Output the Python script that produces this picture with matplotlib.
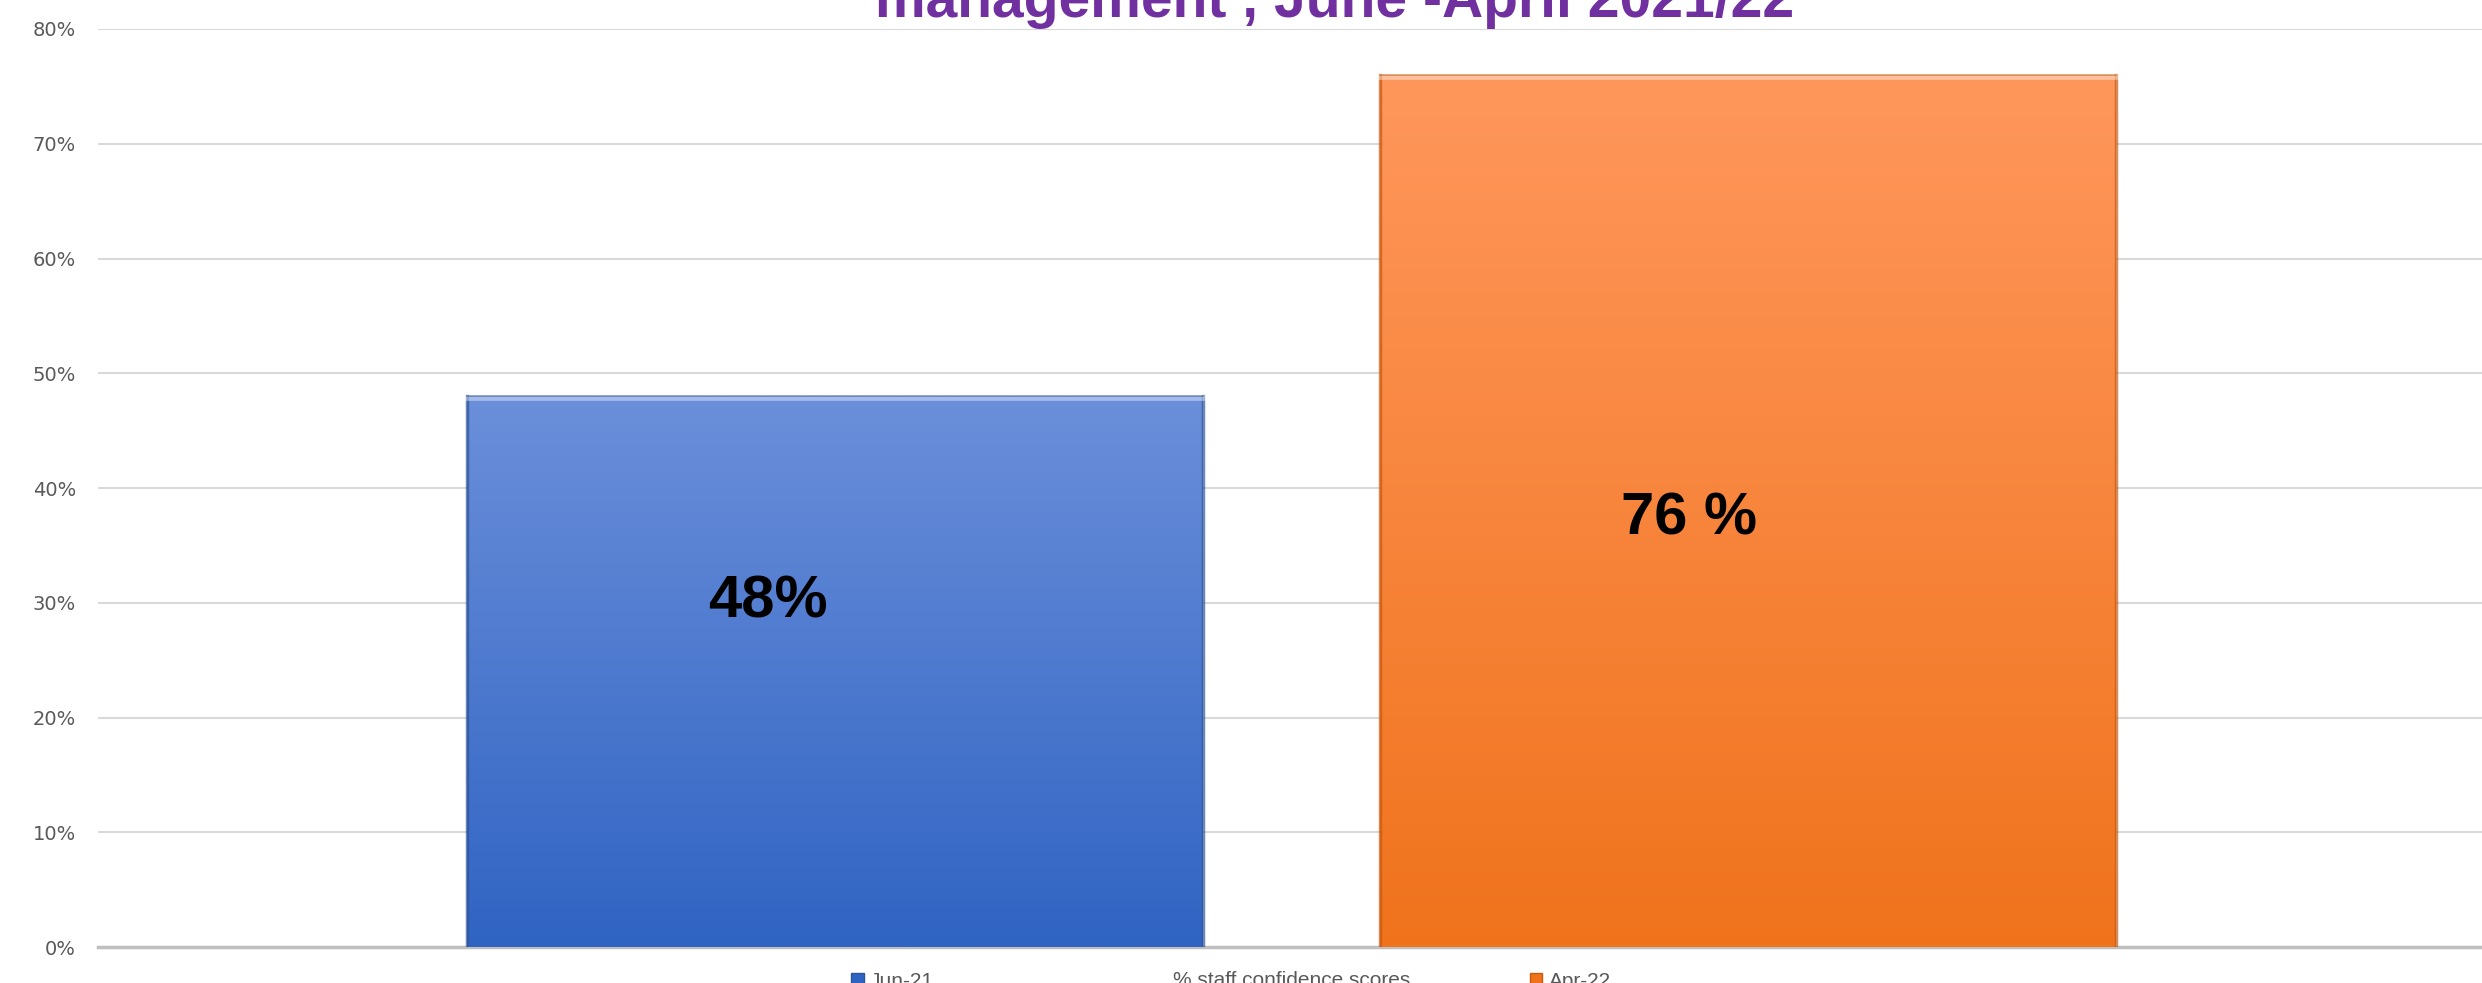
import numpy as np
import matplotlib
matplotlib.use("Agg")
import matplotlib.pyplot as plt
from matplotlib import font_manager as fm
from matplotlib.patches import Patch
from matplotlib.colors import LinearSegmentedColormap

# data
category = ["% staff confidence scores"]
series = ["Jun-21", "Apr-22"]
values = [0.48, 0.76]
bar_labels = ["48%", "76 %"]
title = "management , June -April 2021/22"

# narrow font similar to Calibri if present
names = {f.name for f in fm.fontManager.ttflist}
narrow = "Liberation Sans Narrow" if "Liberation Sans Narrow" in names else "Liberation Sans"

grads = [("#6B8FDA", "#3064C3"), ("#FF975C", "#F0731C")]
edges = ["#2F5597", "#C55A11"]

fig = plt.figure(figsize=(24.82, 9.83), dpi=100)
ax = fig.add_axes([0.0395, 0.0366, 0.9605, 0.9339])

x = np.arange(len(values))
bars = ax.bar(x, values, width=0.806, color="none", edgecolor="none", zorder=3)

for i, b in enumerate(bars):
    cmap = LinearSegmentedColormap.from_list("g", [grads[i][1], grads[i][0]])
    grad = np.linspace(0, 1, 256).reshape(-1, 1)
    x0, w, h = b.get_x(), b.get_width(), b.get_height()
    im = ax.imshow(grad, cmap=cmap, aspect="auto", origin="lower",
                   extent=[x0, x0 + w, 0, h], zorder=3)
    im.set_clip_path(b)
    # bevel: dark sides and light top edge
    ax.plot([x0, x0], [0, h], color=edges[i], lw=2.5, alpha=0.7, zorder=4)
    ax.plot([x0 + w, x0 + w], [0, h], color=edges[i], lw=2.5, alpha=0.7, zorder=4)
    ax.plot([x0, x0 + w], [h, h], color="white", lw=7, alpha=0.4, zorder=4)
    ax.plot([x0, x0 + w], [h, h], color=edges[i], lw=1.2, alpha=0.6, zorder=4)

# value labels
label_dx = [-0.073, -0.065]
label_y = [0.301, 0.373]
for i, lab in enumerate(bar_labels):
    ax.text(x[i] + label_dx[i], label_y[i], lab, ha="center", va="center",
            fontsize=43, fontweight="bold", family=narrow, color="black", zorder=5)

ax.set_xlim(-0.807, 1.804)
ax.set_ylim(0, 0.8)
ax.set_yticks(np.arange(0, 0.81, 0.1))
ax.set_yticklabels([f"{int(round(t * 100))}%" for t in np.arange(0, 0.81, 0.1)],
                   color="#595959", fontsize=14)
ax.tick_params(axis="y", length=0, pad=16)
ax.set_xticks([0.5])
ax.set_xticklabels(category, color="#595959", fontsize=15, family=narrow)
ax.tick_params(axis="x", length=0, pad=17)

ax.grid(axis="y", color="#D9D9D9", lw=1.5, zorder=0)
ax.set_axisbelow(True)
for s in ["top", "right", "left"]:
    ax.spines[s].set_visible(False)
ax.spines["bottom"].set_color("#BFBFBF")
ax.spines["bottom"].set_linewidth(2.5)

# title (cut off at top like the reference)
fig.text(0.5375, 0.983, title, ha="center", va="baseline", fontsize=41,
         fontweight="bold", family=narrow, color="#7030A0")

handles = [Patch(facecolor=grads[0][1], edgecolor=edges[0]),
           Patch(facecolor=grads[1][1], edgecolor=edges[1])]
fig.legend(handles, series, loc="upper center", bbox_to_anchor=(0.496, 0.022),
           ncol=2, frameon=False, prop={"family": narrow, "size": 15},
           columnspacing=28.6, handlelength=0.6, handleheight=0.6, handletextpad=0.3,
           borderpad=0, labelcolor="#595959")

fig.savefig("out.png", dpi=100)
